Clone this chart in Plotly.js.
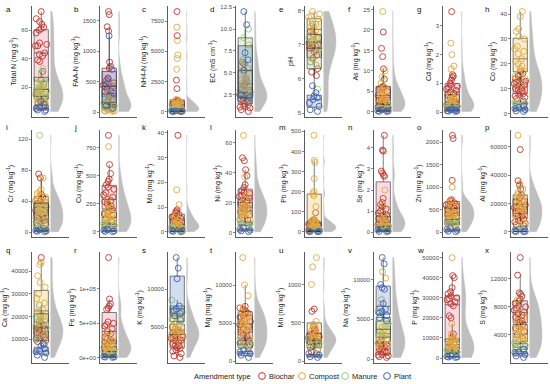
<!DOCTYPE html>
<html><head><meta charset="utf-8">
<script src="https://cdn.plot.ly/plotly-3.0.1.min.js"></script>
<style>html,body{margin:0;padding:0;background:#fff}#chart{width:550px;height:384px}</style>
</head><body><div id="chart"></div>
<script>
const groups = ['Biochar','Compost','Manure','Plant'];
const groupColors = ['#C0352C','#E0A940','#98C986','#3F62B6'];
const boxFills = ['rgba(235,90,120,0.22)','rgba(242,185,70,0.28)','rgba(150,210,130,0.28)','rgba(70,120,200,0.25)'];
const letters = ['a','b','c','d','e','f','g','h','i','j','k','l','m','n','o','p','q','r','s','t','u','v','w','x'];
const yTitles = ['Total N (mg g<sup>-1</sup>)','FAA-N (mg kg<sup>-1</sup>)','NH4-N (mg kg<sup>-1</sup>)','EC (mS cm<sup>-1</sup>)','pH','As (mg kg<sup>-1</sup>)','Cd (mg kg<sup>-1</sup>)','Co (mg kg<sup>-1</sup>)',
 'Cr (mg kg<sup>-1</sup>)','Cu (mg kg<sup>-1</sup>)','Mo (mg kg<sup>-1</sup>)','Ni (mg kg<sup>-1</sup>)','Pb (mg kg<sup>-1</sup>)','Se (mg kg<sup>-1</sup>)','Zn (mg kg<sup>-1</sup>)','Al (mg kg<sup>-1</sup>)',
 'Ca (mg kg<sup>-1</sup>)','Fe (mg kg<sup>-1</sup>)','K (mg kg<sup>-1</sup>)','Mg (mg kg<sup>-1</sup>)','Mn (mg kg<sup>-1</sup>)','Na (mg kg<sup>-1</sup>)','P (mg kg<sup>-1</sup>)','S (mg kg<sup>-1</sup>)'];
const tickVals = [[20,40,60],[0,500,1000,1500],[0,2500,5000,7500],[2.5,5,7.5,10,12.5],[5,6,7,8],[0,5,10,15,20,25],[0,1,2,3],[0,10,20,30,40],
 [0,40,80,120],[0,250,500,750],[0,10,20,30,40],[0,20,40,60],[0,100,200,300,400,500],[0,1,2,3,4],[0,500,1000,1500,2000],[0,20000,40000,60000],
 [10000,20000,30000,40000],[0,50000,100000],[0,5000,10000,15000],[0,5000,10000],[0,500,1000],[0,5000,10000],[0,10000,20000,30000,40000,50000],[4000,8000,12000,16000]];
const feTickText = ['0e+00','5e+04','1e+05'];

// values per panel: [Biochar, Compost, Manure, Plant]
const totalN = [[73,68,66,64,62,61,60,58,51,50,49,49,44,43,42,39,38,31,25,22,18,15,12,9,6],[23,22,21,20,20,19,18,17,17,16,15,15,14,14,13,13,12,12,11,10,10,9,8,7],[33,30,24,20,17,15,12,10],[10,8,6,5,4,4,3]];
const faaN = [[1650,1600,1400,1330,820,750,720,540,520,500,480,460,440,420,380,350,330,300,270,250,220,180,150,120,90,60],[200,180,150,130,120,110,100,90,85,80,70,65,60,50,45,40,30,25,20,15,10],[450,300,150,100,80,60],[1250,700,560,420,310,100,60]];
const nh4N = [[8300,6300,2600,1900,950,900,850,800,750,700,650,600,550,500,450,400,350,300,250,200,150,100,80,50,30,20],[7000,5900,4700,4400,3500,1000,900,800,700,650,600,550,500,450,400,350,300,250,200,150,100,80,50],[300,150,80,40,20],[50,30,20,10,5]];
const ec = [[0.6,0.8,1.0,1.1,1.2,1.4,1.5,1.7,1.8,2.0,2.1,2.2,2.4,2.5,2.6,2.8,3.0,3.2,3.5,3.8,4.0,4.3,6.0,6.2],[1.8,2.0,2.3,2.5,2.8,3.0,3.3,3.6,3.9,4.2,4.5,5.0,5.5,5.8,6.5,8.2],[10.0,9.0,3.0,2.5,2.2,2.0],[12.0,10.5,7.3,6.5,5.3,2.5,2.2,2.0,1.8]];
const ph = [[7.6,7.4,7.3,7.2,7.1,7.05,7.0,7.0,6.95,6.9,6.9,6.85,6.8,6.7,6.6,6.5,6.3,6.2,6.1],[7.97,7.9,7.85,7.8,7.75,7.7,7.6,7.5,7.45,7.4,7.3,7.2,7.1,7.0,6.8,6.6,6.4],[7.6,7.2,6.9,6.5,5.7],[5.8,5.6,5.5,5.45,5.4,5.3,5.2,5.1,5.05]];
const as = [[19.5,15.5,13.5,10.5,8.0,6.2,6.0,5.8,5.5,5.0,4.5,4.0,3.5,3.2,3.0,2.8,2.5,2.2,2.0,1.8,1.5,1.2,1.0,0.8,0.5],[24.5,10.0,8.5,7.0,6.0,5.5,5.0,4.5,4.0,3.5,3.0,2.5,2.2,2.0,1.5,1.2,1.0],[2.0,1.0,0.5],[0.5,0.3,0.2,0.1,0.1]];
const cd = [[3.5,1.3,1.25,1.2,1.1,1.0,0.95,0.9,0.85,0.8,0.75,0.7,0.65,0.6,0.5,0.45,0.4,0.35,0.3,0.25,0.2,0.15,0.1],[2.4,2.0,1.6,1.5,0.6,0.5,0.45,0.4,0.35,0.3,0.28,0.25,0.22,0.2,0.18,0.15,0.12,0.1],[0.3,0.2,0.15,0.1],[0.1,0.08,0.07,0.05,0.04,0.03,0.02]];
const co = [[17,16,15.5,15,14,13.5,13,12.5,12,11.5,11,10.5,10,9.5,9,8.5,8,7.5,7,6.5,6,5],[41,39,34,33,31,30,27,26,25,24,22,21,20,19,18,17,16,15,14,12,10],[5,4.5,4,3.5,3],[3,2.5,2,1.5,1,0.8]];
const cr = [[75,70,48,45,42,40,37,35,32,30,28,27,25,23,22,20,18,17,15,13,12,10,8,5],[70,55,52,50,48,45,42,40,38,35,32,30,28,26,25,22,20,18,15,12,10],[125,8,5,4,3],[3,2,1.5,1,0.5]];
const cu = [[860,600,520,470,450,420,400,380,350,330,310,290,280,270,250,230,220,200,180,160,150,120,90],[760,300,250,220,200,180,160,150,140,130,120,110,100,90,80,70,60,50,40],[80,60,40,30],[20,15,10,5,3]];
const mo = [[39,9,8.5,8,7.5,7,6.5,6,5.5,5,4.5,4,3.8,3.5,3,2.8,2.5,2.2,2,1.5,1],[17,11,7,6,5,4.5,4,3.5,3,2.8,2.5,2.2,2,1.8,1.5,1.2,1],[2,1.5,1,0.8],[0.5,0.3,0.2,0.1]];
const ni = [[50,48,42,38,32,30,28,27,26,25,24,23,22,21,20,19,18,17,16,15,14,12,10,8],[65,37,25,22,20,18,17,16,15,14,13,12,11,10,9,8,7,6],[8,6,5,4],[3,2,1.5,1,0.5]];
const pb = [[95,60,55,50,45,42,40,38,35,32,30,28,25,22,20,18,15,12,10,8,5],[480,355,345,265,200,190,180,125,60,55,50,45,40,35,30,28,25,22,20,18,15,12,10],[10,5,3],[3,2,1,0.5]];
const se = [[4.6,3.9,3.85,2.9,2.8,2.7,2.65,1.6,1.4,1.3,1.2,1.1,1.0,0.9,0.8,0.75,0.7,0.65,0.6,0.55,0.5,0.45,0.4,0.35,0.3,0.25,0.2],[2.0,1.35,0.9,0.7,0.6,0.5,0.45,0.4,0.35,0.3,0.25,0.2,0.15],[0.3,0.2,0.1],[0.1,0.05,0.03,0.02]];
const zn = [[2150,2080,1150,720,700,680,650,620,600,580,560,540,520,500,480,450,420,400,380,350,300,250],[1000,700,650,600,550,500,450,420,400,380,350,320,300,280,250,220,200,180,150,100],[300,200,150],[80,60,40,20,10]];
const al = [[58000,36000,33000,30000,26000,24000,23000,21000,20000,19000,18000,17000,16000,15000,14000,13000,12000,11000,10000,9000,8000,7000,6000,5000,4000],[68000,34000,30000,28000,26000,25000,23000,22000,20000,19000,18000,16000,15000,13000,12000,10000,8000,6000],[4000,2000,1000],[500,300,200,100]];
const ca = [[46000,20000,18000,17000,16000,15500,15000,14500,14000,13500,13000,12500,12000,11500,11000,10500,10000,9500,9000,8000],[44000,43000,38000,35000,33000,30000,28000,26000,25000,23000,22000,21000,20000,19000,18000,17000,16000,15000,14000,12000],[25000,20000,15000,10000,8000],[8000,7000,6000,5000,4500,4000,3000,2000]];
const fe = [[145000,85000,78000,75000,72000,70000,52000,50000,48000,46000,42000,38000,35000,30000,28000,25000,22000,20000,18000,15000,12000,10000,8000],[38000,32000,30000,28000,25000,22000,20000,18000,16000,15000,14000,12000,10000,9000,8000,6000,5000],[10000,5000,3000],[2000,1500,1000,500]];
const k = [[5000,4800,4600,4400,4200,4100,4000,3900,3800,3600,3500,3300,3200,3000,2800,2600,2500,2300,2200,2000,1800,1500,1200,1000],[6500,6000,5800,5500,5200,5000,4800,4600,4500,4300,4200,4000,3800,3500,3000],[8600,7000,6000,5500],[14200,12800,11400,7800,7400,7200,6800,6500,6000]];
const mg = [[7200,7000,6800,6500,6300,6200,6000,5800,5500,5200,5000,4800,4500,4200,4000,3800,3500,3200,3000,2800,2600,2400,2200,2000,1800],[13600,10000,8600,7000,6500,6000,5500,5200,5000,4800,4500,4200,4000,3800,3500,3000,2500,2000],[3000,2500,2000,1500],[1500,1200,1000,800,500]];
const mn = [[680,650,450,420,400,380,360,350,330,320,310,300,290,280,270,260,250,240,230,220,200,180,150,120,100],[1350,1230,1000,520,480,450,400,380,350,320,300,280,250,220,200,150],[300,250,200,150],[100,80,60,50]];
const na = [[3000,2800,2500,2200,2000,1800,1600,1500,1300,1200,1000,900,800,600,500,400,300,200],[11000,10200,7500,6500,4200,4000,3800,3500,3200,3000,2800,2500,2200,2000,1800,1500,1200],[6000,4500,3000,2500],[12800,12000,9400,9000,8800,7000,6300,6000,5800,5500,5200,4800]];
const p = [[41000,40000,35000,33000,32000,31000,30000,29500,29000,28000,27000,26000,21000,20000,12000,10000,8000,6000,5000,4500,4000,3500],[50000,17000,12000,11000,10000,9000,8500,8000,7500,7000,6500,6000,5500,5000,4500,4000,3800,3500,3200,3000],[4000,3000,2500,2000],[1000,800,600,500,300]];
const s = [[15000,12500,10000,9800,9500,9000,8800,8500,8200,8000,7800,7500,7200,7000,6800,6500,6200,6000,5800,5500,5200,5000,4500,4000,3500],[9000,7500,6500,6000,5500,5000,4800,4500,4200,4000,3800,3500,3200,3000,2800,2500,2200,2000],[3000,2500,2000,1800],[2000,1600,1500,1200,1000,800]];

const panels = [totalN,faaN,nh4N,ec,ph,as,cd,co,cr,cu,mo,ni,pb,se,zn,al,ca,fe,k,mg,mn,na,p,s];

const W = 550, H = 384;
const colAxisPx = [32,100,168,236,305,374,443,511];
const plotW = 37;
const rowTopPx = [6,130,252], rowBotPx = [117,237,363];
const letterYPx = [9,128,250];

const traces = [];
const layout = {
  width: W, height: H, margin:{l:0,r:0,t:0,b:0},
  paper_bgcolor:'#fff', plot_bgcolor:'rgba(0,0,0,0)',
  font:{family:'Liberation Sans, Arial, sans-serif', size:6, color:'#4d4d4d'},
  showlegend:false, boxmode:'overlay', violinmode:'overlay',
  annotations:[], shapes:[]
};

panels.forEach((data, i) => {
  const row = Math.floor(i/8), col = i%8;
  const n = i+1;
  const xa = 'x'+(n>1?n:''), ya = 'y'+(n>1?n:'');
  const all = [].concat(...data);
  traces.push({type:'violin', x0:1.15, y:all, xaxis:xa, yaxis:ya, side:'positive', width:1.75,
    scalemode:'width', spanmode:'hard', points:false, fillcolor:'#BEBEBE', line:{width:0.5,color:'#BEBEBE'},
    hoverinfo:'skip', showlegend:false, box:{visible:false}, meanline:{visible:false}});
  data.forEach((vals, g) => {
    traces.push({type:'box', x0:0.5, y:vals, xaxis:xa, yaxis:ya, width:1.0,
      fillcolor:boxFills[g], line:{color:'#2b2b2b', width:0.6}, whiskerwidth:0,
      boxpoints:'all', jitter:0.9, pointpos:0,
      marker:{symbol:'circle-open', size:6, color:groupColors[g], line:{width:0.9}},
      hoverinfo:'skip', showlegend:false, name:groups[g]});
  });
  const x0 = colAxisPx[col]/W, x1 = (colAxisPx[col]+plotW)/W;
  const yd0 = 1 - rowBotPx[row]/H, yd1 = 1 - rowTopPx[row]/H;
  layout['xaxis'+(n>1?n:'')] = {domain:[x0,x1], anchor:ya, range:[-0.15,2.45], showline:true, linecolor:'#333', linewidth:0.8,
    showticklabels:false, ticks:'', showgrid:false, zeroline:false, fixedrange:true};
  const yax = {domain:[yd0,yd1], anchor:xa, showline:true, linecolor:'#333', linewidth:0.8,
    ticks:'outside', ticklen:2, tickwidth:0.6, tickcolor:'#333', tickmode:'array', tickvals:tickVals[i],
    tickfont:{size:6,color:'#4d4d4d'}, showgrid:false, zeroline:false, fixedrange:true,
    tickformat: i===3 ? '.1f' : 'd',
    title:{text:yTitles[i], font:{size:7,color:'#222'}, standoff:3}};
  if (i===17) { yax.ticktext = feTickText; }
  layout['yaxis'+(n>1?n:'')] = yax;
  layout.annotations.push({xref:'paper', yref:'paper', x:(colAxisPx[col]-28)/W, y:1-letterYPx[row]/H,
    xanchor:'left', yanchor:'middle', text:letters[i], showarrow:false, font:{size:8,color:'#111'}});
});

// legend (drawn as a key row at the bottom)
const legY = 376, legR = 3.4;
const legKeyPx = [262,302,345,387];
layout.annotations.push({xref:'paper', yref:'paper', x:253/W, y:1-legY/H, xanchor:'right', yanchor:'middle',
  text:'Amendment type', showarrow:false, font:{size:7.5,color:'#222'}});
groups.forEach((gname, g) => {
  const cx = legKeyPx[g];
  layout.shapes.push({type:'circle', xref:'paper', yref:'paper', x0:(cx-legR)/W, x1:(cx+legR)/W,
    y0:1-(legY+legR)/H, y1:1-(legY-legR)/H, line:{color:groupColors[g], width:1}, fillcolor:'rgba(0,0,0,0)'});
  layout.annotations.push({xref:'paper', yref:'paper', x:(cx+5)/W, y:1-legY/H, xanchor:'left', yanchor:'middle',
    text:gname, showarrow:false, font:{size:7.5,color:'#222'}});
});

Plotly.newPlot('chart', traces, layout, {staticPlot:true, displayModeBar:false});
</script></body></html>
